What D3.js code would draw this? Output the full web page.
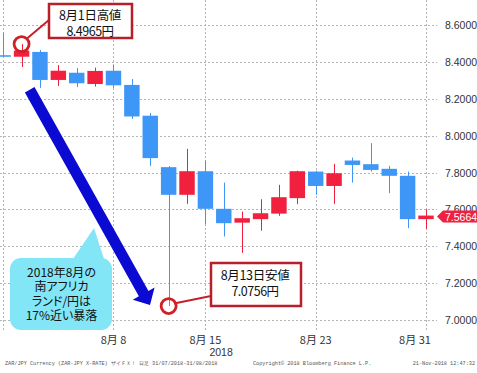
<!DOCTYPE html>
<html><head><meta charset="utf-8">
<script src="https://cdn.jsdelivr.net/npm/d3@7"></script>
<style>
html,body{margin:0;padding:0;background:#fff;}
svg{display:block;}
</style></head>
<body>
<script>
// ---- data ----
const dates = ["2018-07-31","2018-08-01","2018-08-02","2018-08-03","2018-08-06","2018-08-07","2018-08-08","2018-08-09","2018-08-10",
  "2018-08-13","2018-08-14","2018-08-15","2018-08-16","2018-08-17","2018-08-20","2018-08-21","2018-08-22","2018-08-23","2018-08-24",
  "2018-08-27","2018-08-28","2018-08-29","2018-08-30","2018-08-31"];
const opens  = [8.436,8.428,8.454,8.302,8.341,8.280,8.352,8.275,8.108,7.829,7.679,7.807,7.603,7.528,7.547,7.577,7.661,7.805,7.727,7.865,7.845,7.820,7.782,7.547];
const highs  = [8.557,8.4965,8.465,8.383,8.367,8.369,8.383,8.307,8.123,7.835,7.928,7.863,7.745,7.588,7.655,7.733,7.810,7.809,7.847,7.881,7.959,7.836,7.805,7.600];
const lows   = [8.428,8.372,8.259,8.269,8.264,8.266,8.259,8.091,7.836,7.0756,7.630,7.520,7.453,7.364,7.484,7.565,7.628,7.679,7.630,7.745,7.805,7.688,7.498,7.494];
const closes = [8.430,8.461,8.302,8.352,8.284,8.351,8.273,8.104,7.878,7.679,7.807,7.603,7.525,7.552,7.579,7.666,7.807,7.727,7.796,7.841,7.814,7.782,7.547,7.5664];
const yTicks = [7.0,7.2,7.4,7.6,7.8,8.0,8.2,8.4,8.6];
const gridDates = ["2018-07-31","2018-08-08","2018-08-15","2018-08-23","2018-08-31"];
const xTickDates = ["2018-08-08","2018-08-15","2018-08-23","2018-08-31"];
const xTickLabels = ["8月 8","8月 15","8月 23","8月 31"];
const yearLabel = "2018";
const lastPrice = 7.5664;
const highNote = {date:"2018-08-01", value:8.4965, line1:"8月1日高値", line2:"8.4965円"};
const lowNote  = {date:"2018-08-13", value:7.0756, line1:"8月13日安値", line2:"7.0756円"};
const bubbleLines = ["2018年8月の","南アフリカ","ランド/円は","17%近い暴落"];
const footerLeft = "ZAR/JPY Currency (ZAR-JPY X-RATE) ザイＦＸ！  日足 31/07/2018-31/08/2018";
const footerMid = "Copyright© 2018 Bloomberg Finance L.P.";
const footerRight = "21-Nov-2018 12:47:32";

// ---- layout ----
const W = 477, H = 373;
const plotLeft = 0, plotRight = 437, plotTop = 0, plotBottom = 330;
const UP = "#f2203f", DOWN = "#3e97f6";
const CJK = "'Noto Sans CJK JP','Noto Sans',sans-serif";
const LAT = "'Liberation Sans',Arial,sans-serif";

const idx = d => dates.indexOf(d);
const x = d3.scaleLinear().domain([0, dates.length-1]).range([3.2, 426]);
const y = d3.scaleLinear().domain([7.0, 8.6]).range([320, 25]);
const step = x(1) - x(0);
const bodyW = step * 0.84;

const svg = d3.select("body").append("svg").attr("width", W).attr("height", H);
svg.append("rect").attr("width", W).attr("height", H).attr("fill", "#fff");

// grid
const grid = svg.append("g").attr("stroke", "#b4b4b4").attr("stroke-width", 1).attr("stroke-dasharray", "2,2");
grid.selectAll("line.h").data(yTicks).join("line").attr("class","h")
  .attr("x1", plotLeft).attr("x2", plotRight)
  .attr("y1", d => Math.round(y(d))+0.5).attr("y2", d => Math.round(y(d))+0.5);
grid.selectAll("line.v").data(gridDates).join("line").attr("class","v")
  .attr("x1", d => Math.round(x(idx(d)))+0.5).attr("x2", d => Math.round(x(idx(d)))+0.5)
  .attr("y1", plotTop).attr("y2", plotBottom);

// candles
const candles = dates.map((d,i) => ({d, i, o:opens[i], h:highs[i], l:lows[i], c:closes[i]}));
const cg = svg.append("g");
cg.selectAll("line.wick").data(candles).join("line").attr("class","wick")
  .attr("x1", d => Math.round(x(d.i))+0.5).attr("x2", d => Math.round(x(d.i))+0.5)
  .attr("y1", d => y(d.h)).attr("y2", d => y(d.l))
  .attr("stroke", d => d.c >= d.o ? UP : DOWN).attr("stroke-width", 1);
cg.selectAll("rect.body").data(candles).join("rect").attr("class","body")
  .attr("x", d => x(d.i) - bodyW/2).attr("width", bodyW)
  .attr("y", d => y(Math.max(d.o,d.c)))
  .attr("height", d => Math.max(1.5, Math.abs(y(d.o)-y(d.c))))
  .attr("fill", d => d.c >= d.o ? UP : DOWN);

// y labels
svg.append("g").selectAll("text").data(yTicks).join("text")
  .attr("x", 445).attr("y", d => y(d) + 4)
  .attr("font-family", LAT).attr("font-size", 10.5).attr("fill", "#333")
  .text(d => d.toFixed(4));

// last price label
const py = y(lastPrice);
svg.append("path")
  .attr("d", `M${plotRight},${py+1} L${plotRight+6},${py-5} L${W},${py-5} L${W},${py+7} L${plotRight+6},${py+7} Z`)
  .attr("fill", "#ee2240");
svg.append("text").attr("x", 445).attr("y", py+5)
  .attr("font-family", LAT).attr("font-size", 10.5).attr("fill", "#fff").text(lastPrice.toFixed(4));

// x labels
const xl = svg.append("g");
xl.selectAll("text").data(xTickDates).join("text")
  .attr("x", d => Math.min(x(idx(d)), plotRight - 22))
  .attr("y", 344).attr("text-anchor", "middle")
  .attr("font-family", CJK).attr("font-size", 11).attr("fill", "#333")
  .text((d,i) => xTickLabels[i]);
xl.append("text").attr("x", x(idx("2018-08-15")) + 4).attr("y", 356)
  .attr("font-family", LAT).attr("font-size", 10.5).attr("fill", "#333").text(yearLabel);

// footer
const ft = svg.append("g").attr("font-family", "'Liberation Mono','DejaVu Sans Mono',monospace").attr("font-size", 5.2).attr("fill", "#555");
ft.append("text").attr("x", 5).attr("y", 365).text(footerLeft);
ft.append("text").attr("x", 253).attr("y", 365).text(footerMid);
ft.append("text").attr("x", 475).attr("y", 365).attr("text-anchor", "end").text(footerRight);

// big arrow
(function(){
  const S = [29.7, 89.7], T = [150, 305];
  const dx = T[0]-S[0], dy = T[1]-S[1], L = Math.hypot(dx,dy);
  const d = [dx/L, dy/L], p = [d[1], -d[0]];
  const sw = 5.5, hl = 13, hw = 12.5;
  const B = [T[0]-hl*d[0], T[1]-hl*d[1]];
  const pt = (c, k) => [c[0]+k*p[0], c[1]+k*p[1]];
  const pts = [pt(S,sw), pt(B,sw), pt(B,hw), T, pt(B,-hw), pt(B,-sw), pt(S,-sw)];
  svg.append("polygon").attr("points", pts.map(q=>q.join(",")).join(" ")).attr("fill", "#0a0ad2");
})();

// bubble
const bub = svg.append("g");
bub.append("rect").attr("x", 10).attr("y", 258).attr("width", 102).attr("height", 72).attr("rx", 11)
  .attr("fill", "#82e6f6");
bub.append("polygon").attr("points", "73,259 94,228 104,259").attr("fill", "#82e6f6");
bub.selectAll("text").data(bubbleLines).join("text")
  .attr("x", 61.5).attr("y", (d,i) => 277 + i*14.4).attr("text-anchor", "middle")
  .attr("font-family", CJK).attr("font-size", 12).attr("fill", "#111")
  .style("font-feature-settings", "'palt'")
  .text(d => d);

// annotation boxes
function noteBox(n, bx, by, bw, bh, tx, ty1, ty2, lineFrom, lineTo){
  const cx = x(idx(n.date)), cy = y(n.value);
  svg.append("line").attr("x1", lineFrom[0]).attr("y1", lineFrom[1]).attr("x2", lineTo[0]).attr("y2", lineTo[1])
    .attr("stroke", "#c8202a").attr("stroke-width", 2);
  svg.append("circle").attr("cx", cx).attr("cy", cy).attr("r", 7.5)
    .attr("fill", "none").attr("stroke", "#d01f26").attr("stroke-width", 2.8);
  svg.append("rect").attr("x", bx).attr("y", by).attr("width", bw).attr("height", bh)
    .attr("fill", "#fff").attr("stroke", "#b81f2a").attr("stroke-width", 2.5);
  const g = svg.append("g").attr("font-family", CJK).attr("font-size", 12.5).attr("fill", "#111").attr("text-anchor","middle");
  g.append("text").attr("x", tx).attr("y", ty1).style("letter-spacing","-0.3px").text(n.line1);
  g.append("text").attr("x", tx).attr("y", ty2).style("letter-spacing","-0.5px").text(n.line2);
}
noteBox(highNote, 49, 4, 83, 34, 90, 19.5, 35.5, [27, 38.5], [49, 20]);
noteBox(lowNote, 211, 263, 90, 43, 255, 280, 296, [174, 303.5], [211, 296]);
</script>
</body></html>
